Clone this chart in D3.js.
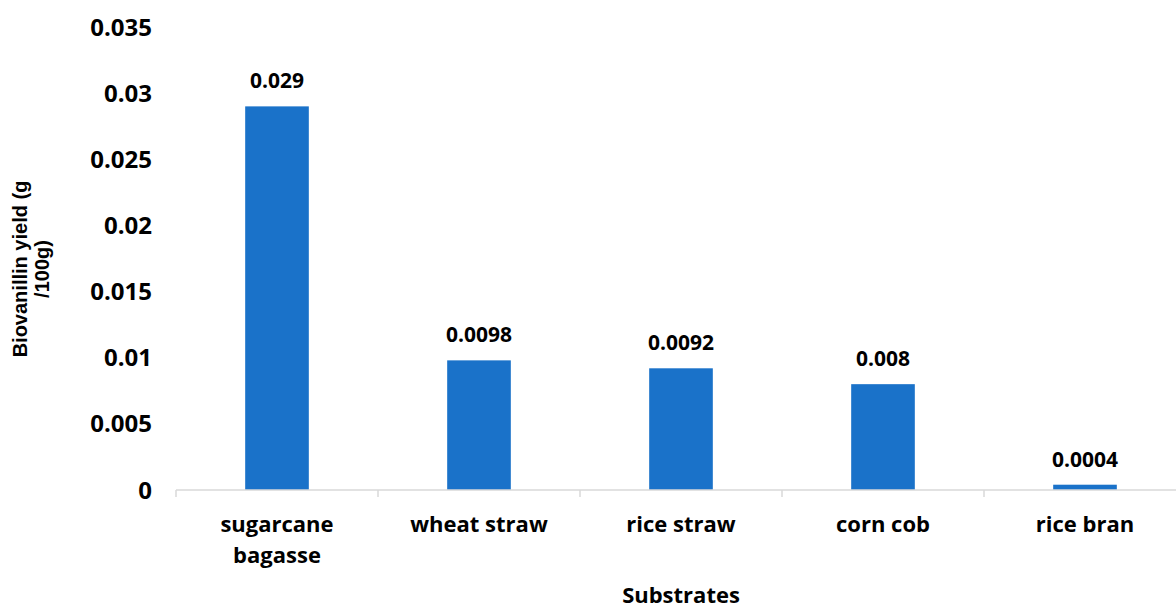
<!DOCTYPE html>
<html><head><meta charset="utf-8">
<script src="https://cdn.jsdelivr.net/npm/d3@7"></script>
<style>body{margin:0;background:#fff}svg{display:block}text{font-family:"Open Sans",sans-serif;font-weight:bold;fill:#000}</style>
</head><body><div id="chart"></div>
<script>
const categories = [["sugarcane","bagasse"],["wheat straw"],["rice straw"],["corn cob"],["rice bran"]];
const values = [0.029, 0.0098, 0.0092, 0.008, 0.0004];
const valueLabels = ["0.029","0.0098","0.0092","0.008","0.0004"];
const yTicks = [0,0.005,0.01,0.015,0.02,0.025,0.03,0.035];
const yTickLabels = ["0","0.005","0.01","0.015","0.02","0.025","0.03","0.035"];

const W=1176,H=608;
const svg=d3.select("#chart").append("svg").attr("width",W).attr("height",H);
const keys=categories.map(c=>c.join(" "));
const x=d3.scaleBand().domain(keys).range([176,1186]).padding(0);
const y=d3.scaleLinear().domain([0,0.035]).range([490,27]);
const barW=x.bandwidth()*0.315;

// y tick labels
svg.append("g").selectAll("text").data(yTicks).join("text")
  .attr("x",152).attr("y",d=>y(d)).attr("text-anchor","end").attr("dy","0.36em")
  .style("font-size","24px").text((d,i)=>yTickLabels[i]);

// bars
svg.append("g").selectAll("rect").data(values).join("rect")
  .attr("x",(d,i)=>x(keys[i])+x.bandwidth()/2-barW/2).attr("width",barW)
  .attr("y",d=>y(d)).attr("height",d=>y(0)-y(d)).attr("fill","#1a72c9");

// x axis
svg.append("line").attr("x1",176).attr("x2",1186).attr("y1",490).attr("y2",490).attr("stroke","#d9d9d9").attr("stroke-width",1.5);
svg.append("g").selectAll("line").data(d3.range(keys.length+1)).join("line")
  .attr("x1",i=>176+i*x.step()).attr("x2",i=>176+i*x.step()).attr("y1",490).attr("y2",497)
  .attr("stroke","#d9d9d9").attr("stroke-width",1.5);

// value labels
svg.append("g").selectAll("text").data(values).join("text")
  .attr("x",(d,i)=>x(keys[i])+x.bandwidth()/2).attr("y",d=>y(d)-18)
  .attr("text-anchor","middle").style("font-size","21px").text((d,i)=>valueLabels[i]);

// category labels
const cl=svg.append("g").selectAll("text").data(categories).join("text")
  .attr("x",(d,i)=>x(keys[i])+x.bandwidth()/2).attr("y",532)
  .attr("text-anchor","middle").style("font-size","22px");
cl.each(function(d){
  const t=d3.select(this);
  d.forEach((s,j)=>t.append("tspan").attr("x",t.attr("x")).attr("dy",j?31:0).text(s));
});

// axis titles
svg.append("text").attr("x",681).attr("y",603).attr("text-anchor","middle").style("font-size","22px").text("Substrates");
const yt=svg.append("text").attr("transform","translate(27,269) rotate(-90)").attr("text-anchor","middle")
  .style("font-size","20px").style("font-family","'Liberation Sans',Arial,sans-serif");
yt.append("tspan").attr("x",0).attr("y",0).text("Biovanillin yield (g");
yt.append("tspan").attr("x",0).attr("y",22).text("/100g)");
</script></body></html>
